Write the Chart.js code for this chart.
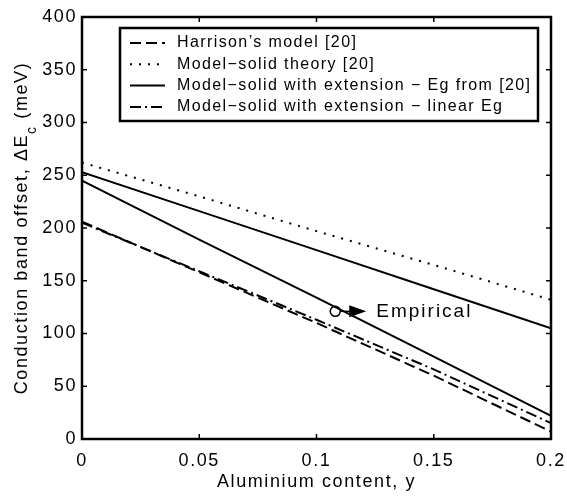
<!DOCTYPE html>
<html>
<head>
<meta charset="utf-8">
<script src="https://cdn.jsdelivr.net/npm/chart.js@4.4.1/dist/chart.umd.min.js"></script>
<style>
  html, body { margin: 0; padding: 0; background: #fff; }
  canvas { display: block; }
</style>
</head>
<body>
<canvas id="chart" width="567" height="498"></canvas>
<script>
// values
const xValues = [0, 0.05, 0.1, 0.15, 0.2];
const harrison = [206, 158, 110, 60, 7];
const modelSolid = [262, 230, 197, 165, 132];
const extEgFrom20 = [253, 216, 179, 142, 105];
const extLinearEg = [205, 159, 113, 66, 15];
const empirical = [245, 189, 134, 78, 22];
const empiricalMark = { x: 0.108, y: 121 };

const xTicks = [0, 0.05, 0.1, 0.15, 0.2];
const yTicks = [0, 50, 100, 150, 200, 250, 300, 350, 400];

const legendLabels = [
    "Harrison\u2019s model [20]",
    "Model\u2212solid theory [20]",
    "Model\u2212solid with extension \u2212 Eg from [20]",
    "Model\u2212solid with extension \u2212 linear Eg"
];

const FONT = 'Liberation Sans, Arial, Helvetica, sans-serif';
const pts = arr => xValues.map((x, i) => ({ x: x, y: arr[i] }));

function lineSet(label, arr, dash, width) {
    return { label: label, data: pts(arr), borderColor: '#000', borderWidth: width || 2, borderDash: dash, pointRadius: 0, fill: false, tension: 0 };
}

const datasets = [
    lineSet(legendLabels[0], harrison, [11, 5]),
    lineSet(legendLabels[1], modelSolid, [2, 7], 2),
    lineSet(legendLabels[2], extEgFrom20, []),
    lineSet(legendLabels[3], extLinearEg, [11, 4, 2, 4]),
    lineSet('Empirical', empirical, []),
    { label: 'mark', data: [empiricalMark], showLine: false, pointRadius: 5, borderWidth: 1.5, pointBorderColor: '#000', pointBackgroundColor: 'rgba(0,0,0,0)' }
];

const decorPlugin = {
    id: 'decor',
    beforeDraw(chart) {
        chart.ctx.letterSpacing = '1.6px';
    },
    afterDraw(chart) {
        const ctx = chart.ctx;
        const a = chart.chartArea;
        const xs = chart.scales.x, ys = chart.scales.y;
        ctx.save();
        ctx.setLineDash([]);
        ctx.strokeStyle = '#000';
        ctx.fillStyle = '#000';

        // inward ticks on all four sides
        ctx.lineWidth = 1.5;
        ctx.beginPath();
        xs.ticks.forEach(t => {
            const px = xs.getPixelForValue(t.value);
            ctx.moveTo(px, a.bottom); ctx.lineTo(px, a.bottom - 5);
            ctx.moveTo(px, a.top); ctx.lineTo(px, a.top + 5);
        });
        ys.ticks.forEach(t => {
            const py = ys.getPixelForValue(t.value);
            ctx.moveTo(a.left, py); ctx.lineTo(a.left + 5, py);
            ctx.moveTo(a.right, py); ctx.lineTo(a.right - 5, py);
        });
        ctx.stroke();

        // frame
        ctx.lineWidth = 2.5;
        ctx.strokeRect(a.left, a.top, a.right - a.left, a.bottom - a.top);

        // x title
        ctx.letterSpacing = '1.6px';
        ctx.font = '18px ' + FONT;
        ctx.textAlign = 'center';
        ctx.textBaseline = 'middle';
        ctx.fillText('Aluminium content, y', (a.left + a.right) / 2, 482);

        // y title with subscript
        const part1 = 'Conduction band offset, \u0394E';
        const sub = 'c';
        const part2 = ' (meV)';
        ctx.save();
        ctx.translate(22, (a.top + a.bottom) / 2);
        ctx.rotate(-Math.PI / 2);
        ctx.font = '18px ' + FONT;
        const w1 = ctx.measureText(part1).width;
        const w3 = ctx.measureText(part2).width;
        ctx.font = '14px ' + FONT;
        const w2 = ctx.measureText(sub).width;
        let tx = -(w1 + w2 + w3) / 2;
        ctx.textAlign = 'left';
        ctx.font = '18px ' + FONT;
        ctx.fillText(part1, tx, 0);
        tx += w1;
        ctx.font = '14px ' + FONT;
        ctx.fillText(sub, tx, 10);
        tx += w2;
        ctx.font = '18px ' + FONT;
        ctx.fillText(part2, tx, 0);
        ctx.restore();

        // legend
        const box = { l: 120, t: 28, r: 538, b: 121 };
        ctx.fillStyle = '#fff';
        ctx.fillRect(box.l, box.t, box.r - box.l, box.b - box.t);
        ctx.fillStyle = '#000';
        ctx.lineWidth = 2.5;
        ctx.strokeRect(box.l, box.t, box.r - box.l, box.b - box.t);
        ctx.letterSpacing = '1.4px';
        ctx.font = '16px ' + FONT;
        ctx.textAlign = 'left';
        ctx.textBaseline = 'middle';
        legendLabels.forEach((lab, i) => {
            const ds = chart.data.datasets[i];
            const y = 43 + i * 21.3;
            ctx.lineWidth = ds.borderWidth;
            ctx.setLineDash(ds.borderDash);
            ctx.beginPath();
            ctx.moveTo(130, y); ctx.lineTo(165, y);
            ctx.stroke();
            ctx.setLineDash([]);
            ctx.fillText(lab, 177, y);
        });

        // empirical annotation arrow
        const cx = xs.getPixelForValue(empiricalMark.x);
        const cy = ys.getPixelForValue(empiricalMark.y);
        ctx.lineWidth = 1.5;
        ctx.beginPath();
        ctx.moveTo(cx + 5, cy); ctx.lineTo(cx + 16, cy);
        ctx.stroke();
        ctx.beginPath();
        ctx.moveTo(cx + 14, cy - 6); ctx.lineTo(cx + 31, cy); ctx.lineTo(cx + 14, cy + 6);
        ctx.closePath();
        ctx.fill();
        ctx.letterSpacing = '2px';
        ctx.font = '19px ' + FONT;
        ctx.fillText('Empirical', cx + 41, cy);
        ctx.restore();
    }
};

function noSidePad(s) {
    s.paddingLeft = 0;
    s.paddingRight = 0;
    s.paddingTop = 0;
    s.paddingBottom = 0;
}

new Chart(document.getElementById('chart'), {
    type: 'line',
    data: { datasets: datasets },
    options: {
        responsive: false,
        animation: false,
        devicePixelRatio: 1,
        layout: { padding: { top: 17, right: 16, left: 0, bottom: 0 } },
        plugins: { legend: { display: false }, tooltip: { enabled: false } },
        scales: {
            x: {
                type: 'linear', min: 0, max: 0.2,
                afterBuildTicks: s => { s.ticks = xTicks.map(v => ({ value: v })); },
                ticks: { color: '#000', font: { size: 18, family: FONT }, padding: 11, maxRotation: 0,
                    callback: v => String(+v.toFixed(2)) },
                grid: { display: false, drawTicks: false },
                border: { display: false },
                afterFit: s => { s.height = 59; noSidePad(s); }
            },
            y: {
                type: 'linear', min: 0, max: 400,
                afterBuildTicks: s => { s.ticks = yTicks.map(v => ({ value: v })); },
                ticks: { color: '#000', font: { size: 18, family: FONT }, padding: 5 },
                grid: { display: false, drawTicks: false },
                border: { display: false },
                afterFit: s => { s.width = 82; noSidePad(s); }
            }
        }
    },
    plugins: [decorPlugin]
});
</script>
</body>
</html>
